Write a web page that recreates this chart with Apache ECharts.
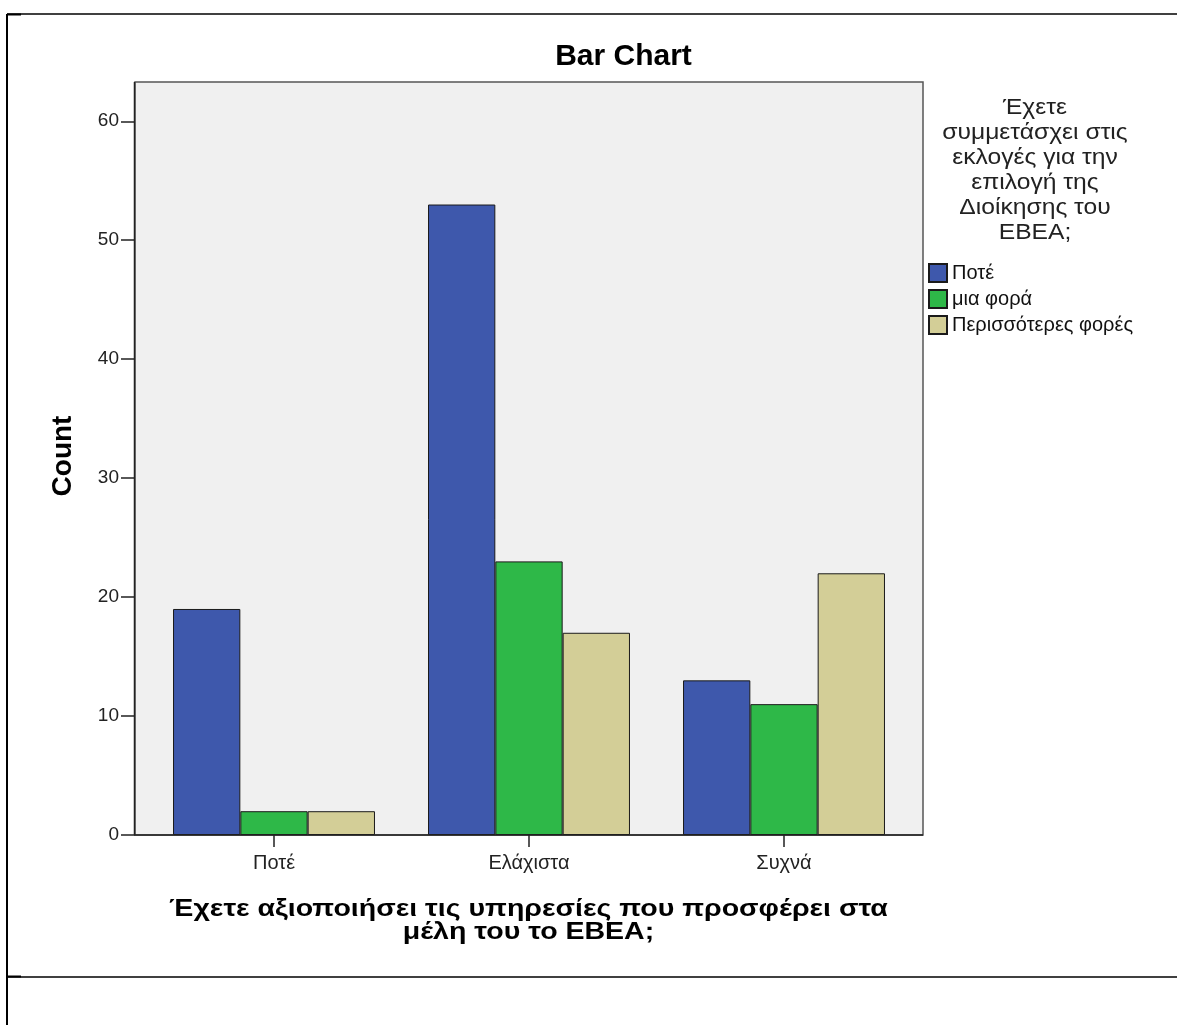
<!DOCTYPE html>
<html>
<head>
<meta charset="utf-8">
<script src="https://cdn.jsdelivr.net/npm/echarts@6/dist/echarts.min.js"></script>
<style>
html,body{margin:0;padding:0;background:#fff;}
#chart{width:1177px;height:1025px;}
</style>
</head>
<body>
<div id="chart"></div>
<script>
var categories = ['Ποτέ', 'Ελάχιστα', 'Συχνά'];
var seriesNames = ['Ποτέ', 'μια φορά', 'Περισσότερες φορές'];
var valuesNever = [19, 53, 13];
var valuesOnce = [2, 23, 11];
var valuesMore = [2, 17, 22];
var yTicks = [0, 10, 20, 30, 40, 50, 60];
var legendTitle = ['Έχετε', 'συμμετάσχει στις', 'εκλογές για την', 'επιλογή της', 'Διοίκησης του', 'ΕΒΕΑ;'];
var xTitle = 'Έχετε αξιοποιήσει τις υπηρεσίες που προσφέρει στα\nμέλη του το ΕΒΕΑ;';

var colors = ['#3e58ac', '#2eb848', '#d3ce97'];
var font = '"Liberation Sans", Arial, sans-serif';
var chart = echarts.init(document.getElementById('chart'));

function mk(name, data, color) {
  return {
    type: 'bar', name: name, data: data,
    barGap: '0%', barCategoryGap: '20.8%',
    itemStyle: { color: color, borderColor: '#1a1a1a', borderWidth: 1 },
    emphasis: { disabled: true }
  };
}

var option = {
  animation: false,
  backgroundColor: '#ffffff',
  textStyle: { fontFamily: font },
  legend: {
    orient: 'vertical', left: 923, top: 258,
    itemWidth: 18, itemHeight: 18, itemGap: 6, icon: 'rect',
    data: seriesNames,
    textStyle: { fontFamily: font, fontSize: 20, color: '#111' }
  },
  grid: { left: 146.5, right: 1177 - 911.5, top: 82, bottom: 1025 - 835 },
  xAxis: {
    type: 'category', data: categories,
    axisLine: { show: false },
    axisTick: { show: true, alignWithLabel: true, length: 12, lineStyle: { color: '#222', width: 1.5 } },
    axisLabel: { fontFamily: font, fontSize: 20, color: '#222', margin: 18 }
  },
  yAxis: {
    type: 'value', min: 0, max: 63.3, interval: 10, offset: 11.5,
    splitLine: { show: false },
    axisLine: { show: false },
    axisTick: { show: true, length: 14, lineStyle: { color: '#222', width: 1.5 }, customValues: yTicks },
    axisLabel: { fontFamily: font, fontSize: 19, color: '#222', margin: 16, customValues: yTicks }
  },
  graphic: [
    { type: 'rect', z: -10, shape: { x: 135, y: 82, width: 788, height: 753 },
      style: { fill: '#f0f0f0', stroke: '#555', lineWidth: 1.5 } },
    { type: 'line', z: 100, shape: { x1: 134.5, y1: 835, x2: 923, y2: 835 }, style: { stroke: '#222', lineWidth: 1.5 } },
    { type: 'line', z: 100, shape: { x1: 134.5, y1: 82, x2: 134.5, y2: 835 }, style: { stroke: '#222', lineWidth: 1.5 } },
    { type: 'text', x: 623.5, y: 57, style: { text: 'Bar Chart', font: 'bold 30px ' + font, fill: '#000', textAlign: 'center', textVerticalAlign: 'middle' } },
    { type: 'text', x: 63, y: 456, rotation: Math.PI / 2, style: { text: 'Count', font: 'bold 28px ' + font, fill: '#000', textAlign: 'center', textVerticalAlign: 'middle' } },
    { type: 'text', x: 528.5, y: 898, scaleX: 1.24, style: { text: xTitle, font: 'bold 23px ' + font, fill: '#000', textAlign: 'center', lineHeight: 23 } },
    { type: 'text', x: 1035, y: 95, scaleX: 1.12, style: { text: legendTitle.join('\n'), font: '22px ' + font, fill: '#222', textAlign: 'center', lineHeight: 25 } },
    { type: 'line', shape: { x1: 7, y1: 14, x2: 1177, y2: 14 }, style: { stroke: '#000', lineWidth: 1.5 } },
    { type: 'line', shape: { x1: 7, y1: 14, x2: 7, y2: 1025 }, style: { stroke: '#000', lineWidth: 2 } },
    { type: 'line', shape: { x1: 7, y1: 977, x2: 1177, y2: 977 }, style: { stroke: '#000', lineWidth: 1.5 } },
    { type: 'line', shape: { x1: 7, y1: 14.5, x2: 21, y2: 14.5 }, style: { stroke: '#000', lineWidth: 2 } },
    { type: 'line', shape: { x1: 7, y1: 976.5, x2: 21, y2: 976.5 }, style: { stroke: '#000', lineWidth: 2 } }
  ],
  series: [
    mk(seriesNames[0], valuesNever, colors[0]),
    mk(seriesNames[1], valuesOnce, colors[1]),
    mk(seriesNames[2], valuesMore, colors[2])
  ]
};
chart.setOption(option);
</script>
</body>
</html>
